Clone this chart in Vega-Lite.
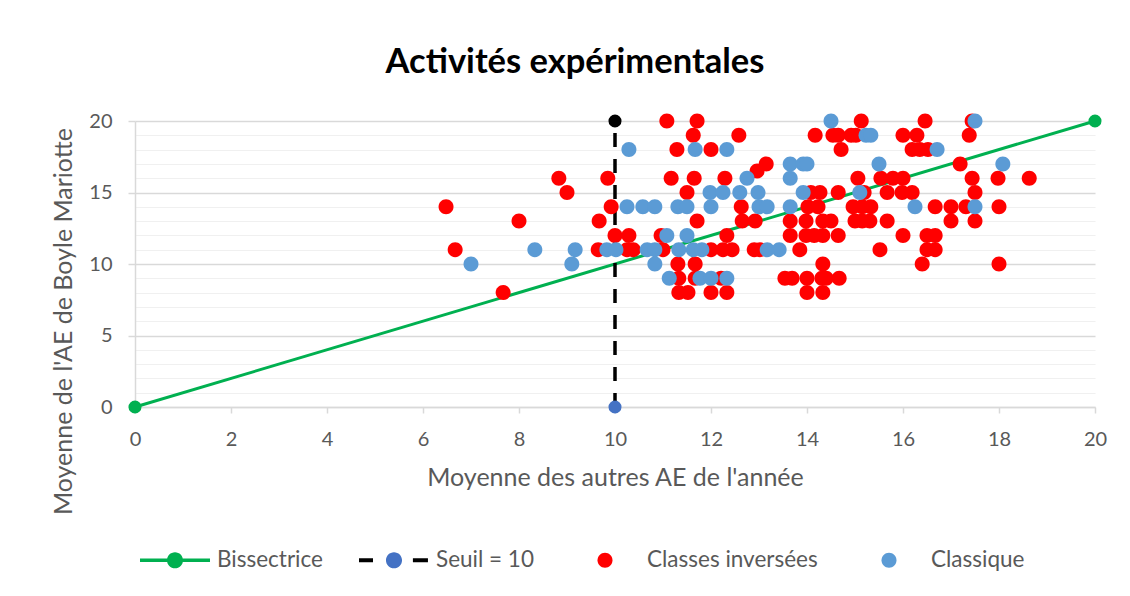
{
  "$schema": "https://vega.github.io/schema/vega-lite/v6.json",
  "width": 960,
  "height": 286,
  "autosize": {"type": "none"},
  "padding": {"left": 135, "top": 121, "right": 35, "bottom": 189},
  "background": "white",
  "config": {"font": "Lato", "view": {"stroke": null}},
  "title": {"text": "Activités expérimentales", "fontSize": 34.5, "fontWeight": "bold", "color": "black", "offset": 31, "dx": -40},
  "datasets": {
    "lines": [
      {"serie": "Bissectrice", "x": 0, "y": 0},
      {"serie": "Bissectrice", "x": 20, "y": 20},
      {"serie": "Seuil = 10", "x": 10, "y": 0},
      {"serie": "Seuil = 10", "x": 10, "y": 20}
    ],
    "pts": [
      {"serie": "Classes inversées", "x": 11.08, "y": 20},
      {"serie": "Classes inversées", "x": 11.71, "y": 20},
      {"serie": "Classes inversées", "x": 15.13, "y": 20},
      {"serie": "Classes inversées", "x": 16.46, "y": 20},
      {"serie": "Classes inversées", "x": 17.44, "y": 20},
      {"serie": "Classes inversées", "x": 11.63, "y": 19},
      {"serie": "Classes inversées", "x": 12.58, "y": 19},
      {"serie": "Classes inversées", "x": 14.17, "y": 19},
      {"serie": "Classes inversées", "x": 14.54, "y": 19},
      {"serie": "Classes inversées", "x": 14.65, "y": 19},
      {"serie": "Classes inversées", "x": 14.92, "y": 19},
      {"serie": "Classes inversées", "x": 15.02, "y": 19},
      {"serie": "Classes inversées", "x": 16.0, "y": 19},
      {"serie": "Classes inversées", "x": 16.29, "y": 19},
      {"serie": "Classes inversées", "x": 17.38, "y": 19},
      {"serie": "Classes inversées", "x": 11.29, "y": 18},
      {"serie": "Classes inversées", "x": 12.0, "y": 18},
      {"serie": "Classes inversées", "x": 14.71, "y": 18},
      {"serie": "Classes inversées", "x": 16.19, "y": 18},
      {"serie": "Classes inversées", "x": 16.35, "y": 18},
      {"serie": "Classes inversées", "x": 16.52, "y": 18},
      {"serie": "Classes inversées", "x": 13.15, "y": 17},
      {"serie": "Classes inversées", "x": 17.19, "y": 17},
      {"serie": "Classes inversées", "x": 12.96, "y": 16.5},
      {"serie": "Classes inversées", "x": 8.83, "y": 16},
      {"serie": "Classes inversées", "x": 9.85, "y": 16},
      {"serie": "Classes inversées", "x": 11.17, "y": 16},
      {"serie": "Classes inversées", "x": 11.65, "y": 16},
      {"serie": "Classes inversées", "x": 12.29, "y": 16},
      {"serie": "Classes inversées", "x": 15.06, "y": 16},
      {"serie": "Classes inversées", "x": 15.54, "y": 16},
      {"serie": "Classes inversées", "x": 15.79, "y": 16},
      {"serie": "Classes inversées", "x": 16.0, "y": 16},
      {"serie": "Classes inversées", "x": 17.44, "y": 16},
      {"serie": "Classes inversées", "x": 17.98, "y": 16},
      {"serie": "Classes inversées", "x": 18.63, "y": 16},
      {"serie": "Classes inversées", "x": 9.0, "y": 15},
      {"serie": "Classes inversées", "x": 11.5, "y": 15},
      {"serie": "Classes inversées", "x": 14.08, "y": 15},
      {"serie": "Classes inversées", "x": 14.27, "y": 15},
      {"serie": "Classes inversées", "x": 14.65, "y": 15},
      {"serie": "Classes inversées", "x": 15.19, "y": 15},
      {"serie": "Classes inversées", "x": 15.67, "y": 15},
      {"serie": "Classes inversées", "x": 15.98, "y": 15},
      {"serie": "Classes inversées", "x": 16.19, "y": 15},
      {"serie": "Classes inversées", "x": 17.5, "y": 15},
      {"serie": "Classes inversées", "x": 6.48, "y": 14},
      {"serie": "Classes inversées", "x": 9.92, "y": 14},
      {"serie": "Classes inversées", "x": 12.63, "y": 14},
      {"serie": "Classes inversées", "x": 14.02, "y": 14},
      {"serie": "Classes inversées", "x": 14.23, "y": 14},
      {"serie": "Classes inversées", "x": 14.96, "y": 14},
      {"serie": "Classes inversées", "x": 15.15, "y": 14},
      {"serie": "Classes inversées", "x": 15.33, "y": 14},
      {"serie": "Classes inversées", "x": 16.67, "y": 14},
      {"serie": "Classes inversées", "x": 17.0, "y": 14},
      {"serie": "Classes inversées", "x": 17.31, "y": 14},
      {"serie": "Classes inversées", "x": 18.0, "y": 14},
      {"serie": "Classes inversées", "x": 8.0, "y": 13},
      {"serie": "Classes inversées", "x": 9.67, "y": 13},
      {"serie": "Classes inversées", "x": 11.71, "y": 13},
      {"serie": "Classes inversées", "x": 12.65, "y": 13},
      {"serie": "Classes inversées", "x": 12.92, "y": 13},
      {"serie": "Classes inversées", "x": 13.65, "y": 13},
      {"serie": "Classes inversées", "x": 13.98, "y": 13},
      {"serie": "Classes inversées", "x": 14.33, "y": 13},
      {"serie": "Classes inversées", "x": 14.5, "y": 13},
      {"serie": "Classes inversées", "x": 15.0, "y": 13},
      {"serie": "Classes inversées", "x": 15.15, "y": 13},
      {"serie": "Classes inversées", "x": 15.31, "y": 13},
      {"serie": "Classes inversées", "x": 15.67, "y": 13},
      {"serie": "Classes inversées", "x": 17.0, "y": 13},
      {"serie": "Classes inversées", "x": 17.5, "y": 13},
      {"serie": "Classes inversées", "x": 10.0, "y": 12},
      {"serie": "Classes inversées", "x": 10.29, "y": 12},
      {"serie": "Classes inversées", "x": 10.96, "y": 12},
      {"serie": "Classes inversées", "x": 12.33, "y": 12},
      {"serie": "Classes inversées", "x": 13.65, "y": 12},
      {"serie": "Classes inversées", "x": 13.98, "y": 12},
      {"serie": "Classes inversées", "x": 14.15, "y": 12},
      {"serie": "Classes inversées", "x": 14.33, "y": 12},
      {"serie": "Classes inversées", "x": 14.65, "y": 12},
      {"serie": "Classes inversées", "x": 16.0, "y": 12},
      {"serie": "Classes inversées", "x": 16.5, "y": 12},
      {"serie": "Classes inversées", "x": 16.67, "y": 12},
      {"serie": "Classes inversées", "x": 6.67, "y": 11},
      {"serie": "Classes inversées", "x": 9.65, "y": 11},
      {"serie": "Classes inversées", "x": 10.25, "y": 11},
      {"serie": "Classes inversées", "x": 10.38, "y": 11},
      {"serie": "Classes inversées", "x": 11.0, "y": 11},
      {"serie": "Classes inversées", "x": 12.0, "y": 11},
      {"serie": "Classes inversées", "x": 12.25, "y": 11},
      {"serie": "Classes inversées", "x": 12.44, "y": 11},
      {"serie": "Classes inversées", "x": 12.9, "y": 11},
      {"serie": "Classes inversées", "x": 13.02, "y": 11},
      {"serie": "Classes inversées", "x": 13.85, "y": 11},
      {"serie": "Classes inversées", "x": 15.52, "y": 11},
      {"serie": "Classes inversées", "x": 16.5, "y": 11},
      {"serie": "Classes inversées", "x": 16.67, "y": 11},
      {"serie": "Classes inversées", "x": 11.31, "y": 10},
      {"serie": "Classes inversées", "x": 11.67, "y": 10},
      {"serie": "Classes inversées", "x": 14.33, "y": 10},
      {"serie": "Classes inversées", "x": 16.4, "y": 10},
      {"serie": "Classes inversées", "x": 18.0, "y": 10},
      {"serie": "Classes inversées", "x": 11.33, "y": 9},
      {"serie": "Classes inversées", "x": 11.67, "y": 9},
      {"serie": "Classes inversées", "x": 12.21, "y": 9},
      {"serie": "Classes inversées", "x": 13.54, "y": 9},
      {"serie": "Classes inversées", "x": 13.69, "y": 9},
      {"serie": "Classes inversées", "x": 14.0, "y": 9},
      {"serie": "Classes inversées", "x": 14.31, "y": 9},
      {"serie": "Classes inversées", "x": 14.4, "y": 9},
      {"serie": "Classes inversées", "x": 14.67, "y": 9},
      {"serie": "Classes inversées", "x": 7.67, "y": 8},
      {"serie": "Classes inversées", "x": 11.33, "y": 8},
      {"serie": "Classes inversées", "x": 11.52, "y": 8},
      {"serie": "Classes inversées", "x": 12.0, "y": 8},
      {"serie": "Classes inversées", "x": 12.33, "y": 8},
      {"serie": "Classes inversées", "x": 14.0, "y": 8},
      {"serie": "Classes inversées", "x": 14.33, "y": 8},
      {"serie": "Classique", "x": 14.5, "y": 20},
      {"serie": "Classique", "x": 17.5, "y": 20},
      {"serie": "Classique", "x": 15.23, "y": 19},
      {"serie": "Classique", "x": 15.33, "y": 19},
      {"serie": "Classique", "x": 10.29, "y": 18},
      {"serie": "Classique", "x": 11.67, "y": 18},
      {"serie": "Classique", "x": 12.33, "y": 18},
      {"serie": "Classique", "x": 16.71, "y": 18},
      {"serie": "Classique", "x": 13.65, "y": 17},
      {"serie": "Classique", "x": 13.92, "y": 17},
      {"serie": "Classique", "x": 14.0, "y": 17},
      {"serie": "Classique", "x": 15.5, "y": 17},
      {"serie": "Classique", "x": 18.08, "y": 17},
      {"serie": "Classique", "x": 12.75, "y": 16},
      {"serie": "Classique", "x": 13.65, "y": 16},
      {"serie": "Classique", "x": 11.98, "y": 15},
      {"serie": "Classique", "x": 12.25, "y": 15},
      {"serie": "Classique", "x": 12.6, "y": 15},
      {"serie": "Classique", "x": 12.98, "y": 15},
      {"serie": "Classique", "x": 13.92, "y": 15},
      {"serie": "Classique", "x": 15.1, "y": 15},
      {"serie": "Classique", "x": 10.25, "y": 14},
      {"serie": "Classique", "x": 10.58, "y": 14},
      {"serie": "Classique", "x": 10.83, "y": 14},
      {"serie": "Classique", "x": 11.31, "y": 14},
      {"serie": "Classique", "x": 11.5, "y": 14},
      {"serie": "Classique", "x": 12.0, "y": 14},
      {"serie": "Classique", "x": 13.0, "y": 14},
      {"serie": "Classique", "x": 13.17, "y": 14},
      {"serie": "Classique", "x": 13.65, "y": 14},
      {"serie": "Classique", "x": 16.25, "y": 14},
      {"serie": "Classique", "x": 17.5, "y": 14},
      {"serie": "Classique", "x": 11.08, "y": 12},
      {"serie": "Classique", "x": 11.5, "y": 12},
      {"serie": "Classique", "x": 8.33, "y": 11},
      {"serie": "Classique", "x": 9.17, "y": 11},
      {"serie": "Classique", "x": 9.83, "y": 11},
      {"serie": "Classique", "x": 10.02, "y": 11},
      {"serie": "Classique", "x": 10.67, "y": 11},
      {"serie": "Classique", "x": 10.83, "y": 11},
      {"serie": "Classique", "x": 11.33, "y": 11},
      {"serie": "Classique", "x": 11.63, "y": 11},
      {"serie": "Classique", "x": 11.81, "y": 11},
      {"serie": "Classique", "x": 13.17, "y": 11},
      {"serie": "Classique", "x": 13.42, "y": 11},
      {"serie": "Classique", "x": 7.0, "y": 10},
      {"serie": "Classique", "x": 9.1, "y": 10},
      {"serie": "Classique", "x": 10.83, "y": 10},
      {"serie": "Classique", "x": 11.13, "y": 9},
      {"serie": "Classique", "x": 11.77, "y": 9},
      {"serie": "Classique", "x": 12.0, "y": 9},
      {"serie": "Classique", "x": 12.33, "y": 9}
    ]
  },
  "encoding": {
    "x": {
      "field": "x", "type": "quantitative",
      "scale": {"domain": [0, 20], "nice": false, "zero": false},
      "axis": {
        "title": "Moyenne des autres AE de l'année",
        "values": [0, 2, 4, 6, 8, 10, 12, 14, 16, 18, 20],
        "grid": false, "labelFlush": false,
        "domainColor": "#D9D9D9", "domainWidth": 1.5,
        "tickColor": "#D9D9D9", "tickSize": 6, "tickWidth": 1.5,
        "labelFontSize": 20, "labelColor": "#595959", "labelPadding": 16,
        "titleFontSize": 25, "titleColor": "#595959", "titleFontWeight": "normal", "titlePadding": 16
      }
    },
    "y": {
      "field": "y", "type": "quantitative",
      "scale": {"domain": [0, 20], "nice": false, "zero": false},
      "axis": {
        "title": "Moyenne de l'AE de Boyle Mariotte",
        "titleY": 200,
        "values": [0, 1, 2, 3, 4, 5, 6, 7, 8, 9, 10, 11, 12, 13, 14, 15, 16, 17, 18, 19, 20],
        "labelExpr": "datum.value % 5 === 0 ? datum.label : ''",
        "grid": true, "labelFlush": false,
        "gridColor": {"condition": {"test": "datum.value % 5 === 0", "value": "#D9D9D9"}, "value": "#F0F0F0"},
        "gridWidth": {"condition": {"test": "datum.value % 5 === 0", "value": 1.5}, "value": 1.2},
        "domainColor": "#D9D9D9", "domainWidth": 1.5,
        "tickColor": "#D9D9D9", "tickSize": 7, "tickWidth": 1.5,
        "tickOpacity": {"condition": {"test": "datum.value % 5 === 0", "value": 1}, "value": 0},
        "labelFontSize": 20, "labelColor": "#595959", "labelPadding": 16,
        "titleFontSize": 25, "titleColor": "#595959", "titleFontWeight": "normal", "titlePadding": 12
      }
    }
  },
  "layer": [
    {
      "data": {"name": "lines"},
      "transform": [{"filter": "datum.serie === 'Bissectrice'"}],
      "mark": {"type": "line", "color": "#00B050", "strokeWidth": 3, "point": {"filled": true, "size": 170, "color": "#00B050", "opacity": 1}}
    },
    {
      "data": {"name": "lines"},
      "transform": [{"filter": "datum.serie === 'Seuil = 10'"}],
      "mark": {"type": "line", "color": "black", "strokeWidth": 3.5, "strokeDash": [14, 12]}
    },
    {
      "data": {"name": "lines"},
      "transform": [{"filter": "datum.serie === 'Seuil = 10' && datum.y === 20"}],
      "mark": {"type": "point", "filled": true, "size": 170, "color": "black", "opacity": 1}
    },
    {
      "data": {"name": "lines"},
      "transform": [{"filter": "datum.serie === 'Seuil = 10' && datum.y === 0"}],
      "mark": {"type": "point", "filled": true, "size": 170, "color": "#4472C4", "opacity": 1}
    },
    {
      "data": {"name": "pts"},
      "mark": {"type": "point", "filled": true, "size": 4900, "opacity": 1, "strokeWidth": 0},
      "encoding": {
        "color": {
          "field": "serie", "type": "nominal",
          "scale": {
            "domain": ["Bissectrice", "Seuil = 10", "Classes inversées", "Classique"],
            "range": ["#00B050", {"expr": "{gradient: 'linear', x1: 0, y1: 0, x2: 1, y2: 0, stops: [{offset: 0, color: 'black'}, {offset: 0.25, color: 'black'}, {offset: 0.25, color: '#4472C4'}, {offset: 0.75, color: '#4472C4'}, {offset: 0.75, color: 'black'}, {offset: 1, color: 'black'}]}"}, "#FF0000", "#5B9BD5"]
          },
          "legend": {
            "title": null, "orient": "bottom", "direction": "horizontal",
            "symbolSize": 4900, "symbolStrokeWidth": 0,
            "labelFontSize": 22.5, "labelColor": "#595959", "labelLimit": 400,
            "labelOffset": 7, "columnPadding": 36, "offset": 30, "padding": 5
          }
        },
        "shape": {
          "field": "serie", "type": "nominal",
          "scale": {
            "domain": ["Bissectrice", "Seuil = 10", "Classes inversées", "Classique"],
            "range": [
              "M-1,-0.05H-0.2V0.05H-1Z M0.2,-0.05H1V0.05H0.2Z M0.23,0A0.23,0.23 0 1,1 -0.23,0A0.23,0.23 0 1,1 0.23,0Z",
              "M-1,-0.055H-0.6V0.055H-1Z M0.54,-0.055H0.97V0.055H0.54Z M0.23,0A0.23,0.23 0 1,1 -0.23,0A0.23,0.23 0 1,1 0.23,0Z",
              "M0.214,0A0.214,0.214 0 1,1 -0.214,0A0.214,0.214 0 1,1 0.214,0Z",
              "M0.214,0A0.214,0.214 0 1,1 -0.214,0A0.214,0.214 0 1,1 0.214,0Z"
            ]
          },
          "legend": {
            "title": null, "orient": "bottom", "direction": "horizontal",
            "symbolSize": 4900, "symbolStrokeWidth": 0,
            "labelFontSize": 22.5, "labelColor": "#595959", "labelLimit": 400,
            "labelOffset": 7, "columnPadding": 36, "offset": 30, "padding": 5
          }
        }
      }
    }
  ]
}
